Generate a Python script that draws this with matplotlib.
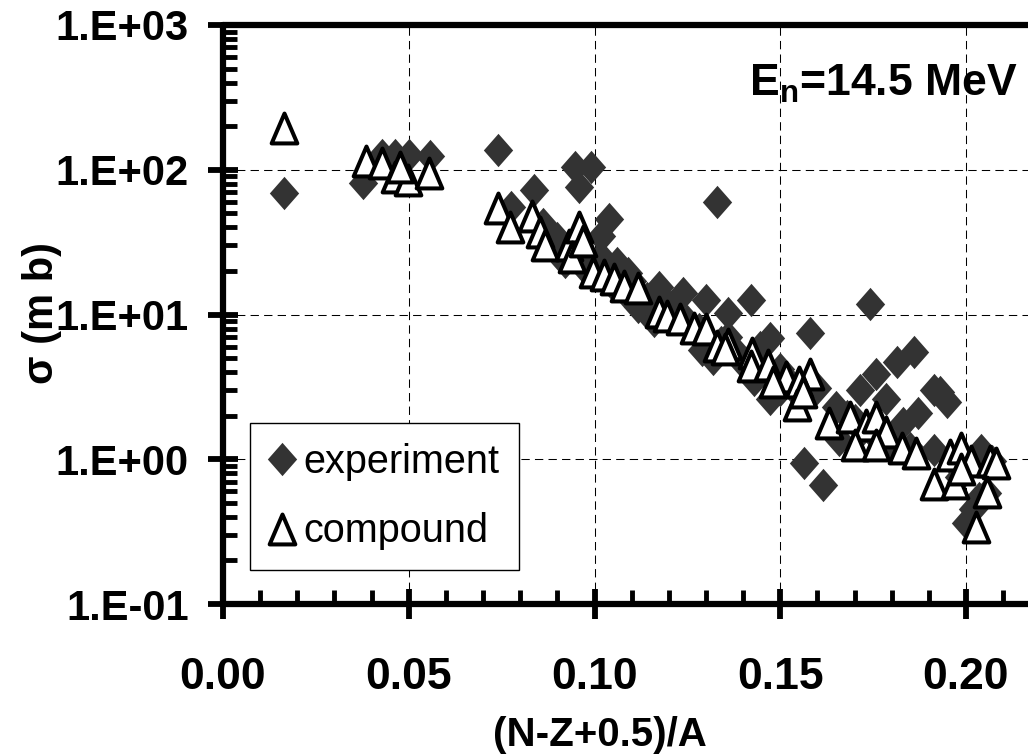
import numpy as np
import matplotlib
matplotlib.use("Agg")
import matplotlib.pyplot as plt
from matplotlib.path import Path
from matplotlib.ticker import MultipleLocator, LogLocator, FuncFormatter, NullFormatter

# experiment (diamonds)
exp_x = [0.0164, 0.0377, 0.0427, 0.0463, 0.0501, 0.0558, 0.0740, 0.0947, 0.0990, 0.0958,
         0.0836, 0.1331, 0.0776, 0.1039, 0.1018, 0.0861, 0.0900, 0.0932, 0.0960, 0.1018,
         0.1060, 0.1090, 0.1117, 0.1174, 0.1238, 0.1300, 0.1359, 0.1420, 0.1741, 0.1580,
         0.1861, 0.1815, 0.1758, 0.1915, 0.1473, 0.1290, 0.1320, 0.1360, 0.1445, 0.1563,
         0.1616, 0.1950, 0.1930, 0.2036, 0.2000, 0.2057, 0.1658, 0.1700, 0.1830, 0.1870,
         0.1786, 0.1715, 0.1473, 0.1915, 0.2070, 0.1960, 0.2040, 0.1100, 0.1140, 0.1200,
         0.1250, 0.1280, 0.1340, 0.1380, 0.1400, 0.1500, 0.1530, 0.1550, 0.1600, 0.1650,
         0.1680, 0.1720, 0.1760, 0.1800, 0.1850, 0.1980, 0.2020, 0.0880, 0.0920, 0.0980,
         0.1050, 0.1080, 0.1500, 0.1160, 0.1430]
exp_y = [69, 81, 127, 127, 127, 125, 137, 105, 105, 76,
         72, 60, 55, 46, 35, 42, 34, 29, 26, 25,
         22.6, 19.4, 11.3, 15.5, 14, 12.6, 10.2, 12.6, 11.8, 7.4,
         5.5, 4.7, 3.9, 3.0, 6.9, 5.7, 4.9, 7.0, 6.0, 0.94,
         0.66, 2.5, 2.9, 0.54, 0.36, 0.58, 1.36, 1.87, 1.78, 2.1,
         2.6, 3.0, 2.6, 1.15, 0.97, 1.0, 1.15, 17, 13, 11.5,
         9, 8, 6.5, 5.5, 4.6, 4.2, 3.3, 2.8, 3.1, 2.3,
         2.0, 1.6, 1.4, 1.3, 1.2, 0.75, 0.45, 30, 23, 20,
         16, 14.5, 3.0, 9, 3.5]

# compound (open triangles)
cmp_x = [0.0164, 0.0384, 0.0427, 0.0463, 0.0498, 0.0477, 0.0555, 0.0740, 0.0773, 0.0833,
         0.0854, 0.0868, 0.0932, 0.0958, 0.0940, 0.0968, 0.0996, 0.1025, 0.1053, 0.1080,
         0.1117, 0.1174, 0.1196, 0.1230, 0.1267, 0.1300, 0.1330, 0.1360, 0.1423, 0.1420,
         0.1466, 0.1516, 0.1580, 0.1550, 0.1545, 0.1630, 0.1687, 0.1730, 0.1758, 0.1786,
         0.1700, 0.1758, 0.1829, 0.1865, 0.1915, 0.1970, 0.1957, 0.1986, 0.2014, 0.2064,
         0.2080, 0.2057, 0.2028, 0.1986, 0.1350, 0.1480, 0.1560]
cmp_y = [194, 115, 111, 89, 85, 104, 95, 54, 40, 48,
         37, 30, 30, 40, 25, 32, 19.7, 18.7, 17.6, 15.7,
         15.2, 10.4, 9.8, 9.3, 8.1, 8.0, 6.1, 6.3, 5.4, 4.4,
         4.5, 3.7, 3.9, 3.4, 2.37, 1.78, 1.96, 1.72, 1.95, 1.54,
         1.25, 1.25, 1.19, 1.10, 0.67, 0.68, 1.07, 1.19, 0.98, 0.98,
         0.94, 0.59, 0.34, 0.85, 5.8, 3.4, 2.9]

plt.rcParams['font.family'] = ['Liberation Sans', 'DejaVu Sans']
plt.rcParams['mathtext.fontset'] = 'custom'
plt.rcParams['mathtext.rm'] = 'Liberation Sans:bold'
plt.rcParams['mathtext.it'] = 'Liberation Sans:bold'
plt.rcParams['mathtext.bf'] = 'Liberation Sans:bold'

diamond = Path([(0, 1), (0.88, 0), (0, -1), (-0.88, 0), (0, 1)],
               [Path.MOVETO, Path.LINETO, Path.LINETO, Path.LINETO, Path.CLOSEPOLY])
triangle = Path([(0, 1), (-0.86, -1), (0.86, -1), (0, 1)],
                [Path.MOVETO, Path.LINETO, Path.LINETO, Path.CLOSEPOLY])

fig = plt.figure(figsize=(10.28, 7.54), dpi=100)
W, H = 1028, 754
x0, x1 = 0.0, 0.22
left_px, top_px, bot_px = 223, 25, 604
px_per_unit = 185.75 / 0.05
ax = fig.add_axes([left_px / W, (H - bot_px) / H, (x1 - x0) * px_per_unit / W, (bot_px - top_px) / H])

ax.plot(exp_x, exp_y, linestyle='none', marker=diamond, markersize=24,
        color='#333333', markeredgewidth=0, label='experiment', zorder=3)
ax.plot(cmp_x, cmp_y, linestyle='none', marker=triangle, markersize=21.5,
        markerfacecolor='white', markeredgecolor='black', markeredgewidth=2.9,
        label='compound', zorder=4)

ax.set_yscale('log')
ax.set_xlim(x0, x1)
ax.set_ylim(0.1, 1000)

ax.xaxis.set_major_locator(MultipleLocator(0.05))
ax.xaxis.set_minor_locator(MultipleLocator(0.01))
ax.xaxis.set_major_formatter(FuncFormatter(lambda v, p: f"{v:.2f}"))
ax.yaxis.set_major_locator(LogLocator(base=10, numticks=10))
ax.yaxis.set_minor_locator(LogLocator(base=10, subs=np.arange(2, 10), numticks=20))
ax.yaxis.set_minor_formatter(NullFormatter())
ax.yaxis.set_major_formatter(FuncFormatter(lambda v, p: "1.E%+03d" % int(round(np.log10(v)))))

ax.tick_params(axis='both', which='major', direction='inout', length=21, width=4.2)
ax.tick_params(axis='both', which='minor', direction='in', length=10, width=3.5)
ax.tick_params(axis='x', which='major', pad=28, labelsize=32)
ax.tick_params(axis='y', which='major', pad=14, labelsize=30)
for lab in ax.get_xticklabels() + ax.get_yticklabels():
    lab.set_fontweight('bold')

for side in ['left', 'bottom', 'top']:
    ax.spines[side].set_linewidth(4.5)
    ax.spines[side].set_capstyle('round')
ax.spines['right'].set_visible(False)

ax.grid(True, which='major', color='black', linewidth=0.75, linestyle=(0, (8, 5)))
ax.set_axisbelow(True)

fig.text(600 / W, 1 - 735 / H, '(N-Z+0.5)/A', ha='center', va='center',
         fontsize=29, fontweight='bold')
fig.text(42 / W, 1 - 313 / H, 'σ (m b)', rotation=90, ha='center', va='center',
         fontsize=30, fontweight='bold')
fig.text(1017 / W, 1 - 84 / H, r'E$_{\rm n}$=14.5 MeV', ha='right', va='center',
         fontsize=32, fontweight='bold')

leg = ax.legend(loc='upper left', bbox_to_anchor=(250 / W, 1 - 423 / H),
                bbox_transform=fig.transFigure, borderaxespad=0, fontsize=28.5,
                handlelength=0.6, handletextpad=0.25, borderpad=0.5,
                labelspacing=0.8, fancybox=False, framealpha=1,
                edgecolor='black')
leg.get_frame().set_linewidth(1)

fig.savefig('out.png', dpi=100)
